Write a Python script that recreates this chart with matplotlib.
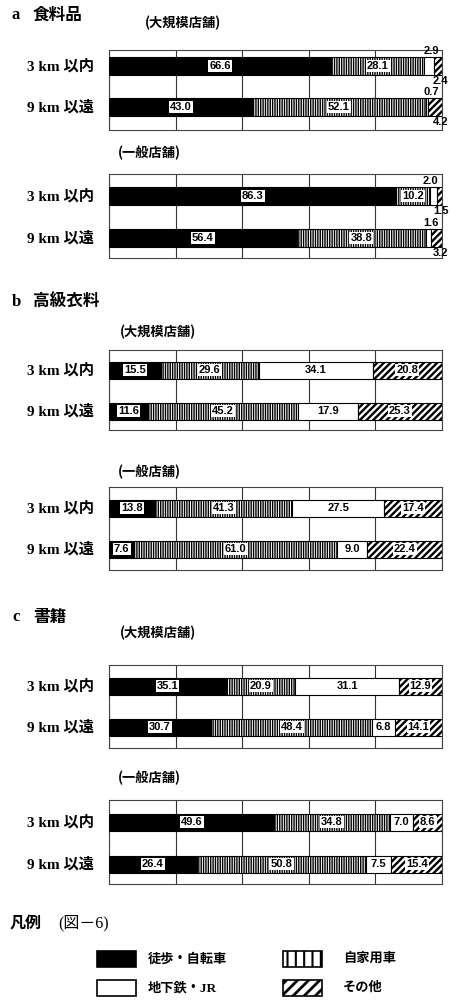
import matplotlib
matplotlib.use("Agg")
import matplotlib.pyplot as plt
import matplotlib.transforms as mtransforms
from matplotlib.patches import Rectangle
import numpy as np

# data (percent shares), order: walk/bike, car, subway/JR, other
rows = ["3 km 以内", "9 km 以遠"]
modes = ["徒歩・自転車", "自家用車", "地下鉄・JR", "その他"]

food_large = [[66.6, 28.1, 2.9, 2.4], [43.0, 52.1, 0.7, 4.2]]
food_general = [[86.3, 10.2, 2.0, 1.5], [56.4, 38.8, 1.6, 3.2]]
cloth_large = [[15.5, 29.6, 34.1, 20.8], [11.6, 45.2, 17.9, 25.3]]
cloth_general = [[13.8, 41.3, 27.5, 17.4], [7.6, 61.0, 9.0, 22.4]]
book_large = [[35.1, 20.9, 31.1, 12.9], [30.7, 48.4, 6.8, 14.1]]
book_general = [[49.6, 34.8, 7.0, 8.6], [26.4, 50.8, 7.5, 15.4]]

sections = [("a", "食料品"), ("b", "高級衣料"), ("c", "書籍")]
store_titles = ["(大規模店舗)", "(一般店舗)"]

W, H = 450, 1006
CJK = "Noto Sans CJK JP"
SERIF = ["Liberation Serif", CJK]
NUM = dict(fontsize=8, fontweight="bold", family="Liberation Sans")

fig = plt.figure(figsize=(W / 100, H / 100), dpi=100)
fig.patch.set_facecolor("white")


def px_text(x, y, s, **kw):
    fig.text(x / W, 1 - y / H, s, **kw)


# layout per panel in pixels: box top, box bottom, row centres, bar height, title x/y
panels = [
    (food_large, 50, 130, 66, 107, 18, 145, 23),
    (food_general, 174, 258, 196, 238, 18, 118, 153),
    (cloth_large, 350, 430, 370, 411, 17, 120, 332),
    (cloth_general, 487, 570, 508, 549, 17, 118, 472),
    (book_large, 665, 748, 686, 727, 17, 120, 633),
    (book_general, 800, 884, 822, 864, 17, 118, 778),
]
heading_y = [15, 302, 617]

styles = [
    dict(color="black", hatch=None, hlw=1.0),
    dict(color="white", hatch="|||||||", hlw=1.0),
    dict(color="white", hatch=None, hlw=1.0),
    dict(color="white", hatch="/////", hlw=1.7),
]

x0, x1 = 109, 442
for k, (data, top, bot, c0, c1, bh, tx, ty) in enumerate(panels):
    if k % 2 == 0:
        sec = sections[k // 2]
        hy = heading_y[k // 2]
        px_text(12, hy, sec[0], fontsize=12, fontweight="bold", family=SERIF,
                va="center")
        px_text(33, hy, sec[1], fontsize=12, fontweight="bold", family=CJK,
                va="center")
    px_text(tx, ty, store_titles[k % 2], fontsize=9.5, fontweight="bold",
            family=CJK, va="center")

    ax = fig.add_axes([x0 / W, 1 - bot / H, (x1 - x0) / W, (bot - top) / H])
    unit = c1 - c0
    vals = np.array(data)
    ypos = np.arange(len(rows))
    lefts = np.zeros(len(rows))
    for j in range(len(modes)):
        st = styles[j]
        with plt.rc_context({"hatch.linewidth": st["hlw"]}):
            ax.barh(ypos, vals[:, j], left=lefts, height=bh / unit,
                    color=st["color"], edgecolor="black", hatch=st["hatch"],
                    linewidth=0.8, zorder=3)
        for i in range(len(rows)):
            v = vals[i, j]
            cx = lefts[i] + v / 2
            if v < 5 and j >= 2:
                if j == 2:
                    ax.text(99, i - bh / unit / 2 - 0.02, f"{v:.1f}",
                            ha="right", va="bottom", zorder=5, clip_on=False,
                            **NUM)
                else:
                    ax.text(102, i + bh / unit / 2 + 0.02, f"{v:.1f}",
                            ha="right", va="top", zorder=5, clip_on=False,
                            **NUM)
            else:
                ax.text(cx, i, f"{v:.1f}", ha="center", va="center",
                        zorder=5, **NUM,
                        bbox=dict(facecolor="white", edgecolor="none",
                                  pad=0.8))
        lefts = lefts + vals[:, j]

    ax.set_xlim(0, 100)
    ax.set_ylim((bot - c0) / unit, -(c0 - top) / unit)
    ax.set_xticks([0, 20, 40, 60, 80, 100])
    ax.set_yticks([])
    ax.tick_params(length=0, labelbottom=False)
    ax.grid(axis="x", color="#333333", linewidth=0.8, zorder=0)
    for sp in ax.spines.values():
        sp.set_color("#444444")
        sp.set_linewidth(0.8)
    trans = mtransforms.blended_transform_factory(ax.transAxes, ax.transData)
    for i, r in enumerate(rows):
        ax.text(-0.045, i, r, transform=trans, ha="right", va="center",
                fontsize=11, fontweight="bold", family=SERIF)

# legend
px_text(10, 923, "凡例", fontsize=11.5, fontweight="bold", family=CJK,
        va="center")
px_text(58, 923, "(図－6)", fontsize=11.5, family=SERIF, va="center")

lax = fig.add_axes([0, 0, 1, 1])
lax.set_xlim(0, W)
lax.set_ylim(H, 0)
lax.axis("off")
leg_pos = [(97, 951, 148), (283, 951, 343), (97, 980, 148), (283, 980, 343)]
leg_hatch = [None, "||", None, "///"]
for j, (lx, ly, txx) in enumerate(leg_pos):
    with plt.rc_context({"hatch.linewidth": 2.0 if j == 3 else 1.5}):
        lax.add_patch(Rectangle((lx, ly), 39, 16, facecolor=styles[j]["color"],
                                edgecolor="black", hatch=leg_hatch[j],
                                linewidth=1.2))
    lax.text(txx, ly + 8, modes[j], fontsize=9.5, fontweight="bold",
             family=SERIF, va="center")

fig.savefig("out.png", dpi=100, facecolor="white")
